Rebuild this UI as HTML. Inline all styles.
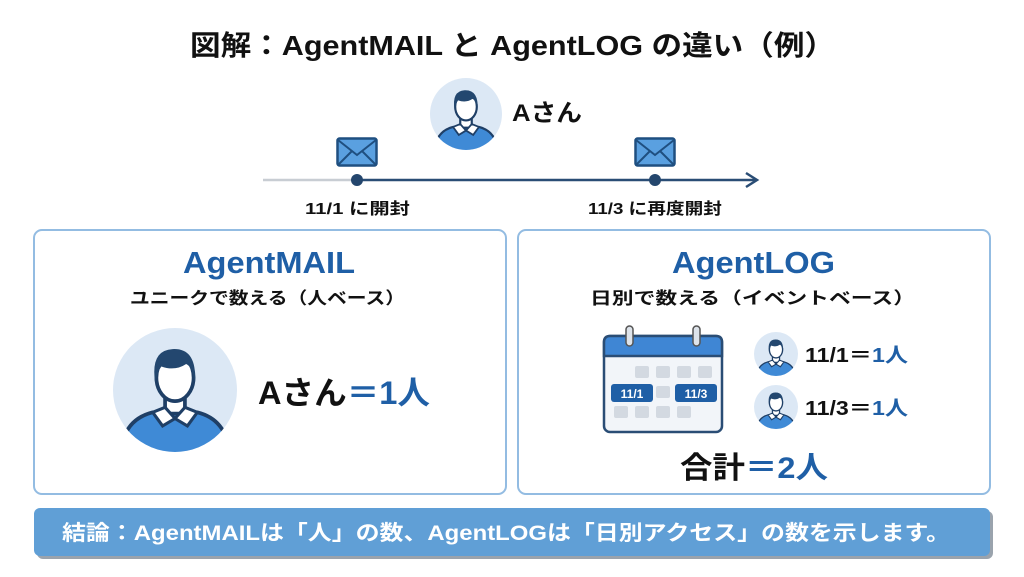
<!DOCTYPE html>
<html><head><meta charset="utf-8"><style>
body{margin:0;width:1024px;height:572px;overflow:hidden;background:#fff;}
text{font-family:"Liberation Sans","Noto Sans CJK JP",sans-serif;font-weight:bold;}
</style></head><body>
<svg width="1024" height="572" viewBox="0 0 1024 572" xmlns="http://www.w3.org/2000/svg">
<defs>
<clipPath id="cc"><circle cx="0" cy="0" r="50"/></clipPath>
<symbol id="p" viewBox="-50 -50 100 100">
<circle cx="0" cy="0" r="50" fill="#dce8f5"/>
<g clip-path="url(#cc)">
<path d="M-44 52 Q-42 24 -18 18 L18 18 Q42 24 44 52 Z" fill="#3f8ad6" stroke="#1f3f66" stroke-width="3"/>
<path d="M-8 6 L-8 19 L8 19 L8 6 Z" fill="#fff" stroke="#1f3f66" stroke-width="3"/>
<path d="M-18 18 L-8 14 L0 23 L-10 29 Z M18 18 L8 14 L0 23 L10 29 Z" fill="#fff" stroke="#1f3f66" stroke-width="2.5"/>
<ellipse cx="0" cy="-10" rx="15" ry="19" fill="#fff" stroke="#1f3f66" stroke-width="3"/>
<path d="M-16 -6 Q-20 -32 -2 -33 Q18 -34 16 -6 Q14 -19 9 -21 Q0 -15 -11 -19 Q-14 -15 -16 -6 Z" fill="#23476f"/>
</g>
</symbol>
<symbol id="env" viewBox="0 0 42 30">
<rect x="1.5" y="1.5" width="39" height="27" rx="2" fill="#5aa0e0" stroke="#1f4f80" stroke-width="2.5"/>
<path d="M2 3 L21 18 L40 3 M2 28 L16 14 M40 28 L26 14" fill="none" stroke="#1f4f80" stroke-width="2"/>
</symbol>
</defs>

<text x="190" y="55" font-size="28" textLength="645" lengthAdjust="spacingAndGlyphs" fill="#111">図解：AgentMAIL と AgentLOG の違い（例）</text>

<use href="#p" x="430" y="78" width="72" height="72"/>
<text x="512" y="121" font-size="24" textLength="70" lengthAdjust="spacingAndGlyphs" fill="#111">Aさん</text>

<line x1="263" y1="180" x2="357" y2="180" stroke="#c8cdd3" stroke-width="2.5"/>
<line x1="357" y1="180" x2="755" y2="180" stroke="#2a4d75" stroke-width="2.5"/>
<path d="M746 173 L757 180 L746 187" fill="none" stroke="#2a4d75" stroke-width="2.5"/>
<circle cx="357" cy="180" r="6" fill="#24466d"/>
<circle cx="655" cy="180" r="6" fill="#24466d"/>
<use href="#env" x="336" y="137" width="42" height="30"/>
<use href="#env" x="634" y="137" width="42" height="30"/>
<text x="305" y="214" font-size="16" textLength="105" lengthAdjust="spacingAndGlyphs" fill="#111">11/1 に開封</text>
<text x="588" y="214" font-size="16" textLength="134" lengthAdjust="spacingAndGlyphs" fill="#111">11/3 に再度開封</text>

<rect x="34" y="230" width="472" height="264" rx="8" fill="#fff" stroke="#93bce2" stroke-width="2"/>
<rect x="518" y="230" width="472" height="264" rx="8" fill="#fff" stroke="#93bce2" stroke-width="2"/>

<text x="183" y="273" font-size="31" textLength="172" lengthAdjust="spacingAndGlyphs" fill="#1f5fa6">AgentMAIL</text>
<text x="130" y="304" font-size="17" textLength="275" lengthAdjust="spacingAndGlyphs" fill="#111">ユニークで数える（人ベース）</text>
<use href="#p" x="113" y="328" width="124" height="124"/>
<text x="258" y="404" font-size="32" textLength="172" lengthAdjust="spacingAndGlyphs" fill="#111">Aさん<tspan fill="#1f5fa6">＝1人</tspan></text>

<text x="672" y="273" font-size="31" textLength="163" lengthAdjust="spacingAndGlyphs" fill="#1f5fa6">AgentLOG</text>
<text x="590" y="304" font-size="17" textLength="325" lengthAdjust="spacingAndGlyphs" fill="#111">日別で数える（イベントベース）</text>

<g>
<rect x="604" y="336" width="118" height="96" rx="6" fill="#f2f5f9" stroke="#2a4d75" stroke-width="2.5"/>
<path d="M604 356 L604 342 Q604 336 610 336 L716 336 Q722 336 722 342 L722 356 Z" fill="#3f86d4" stroke="#2a4d75" stroke-width="2.5"/>
<rect x="626" y="326" width="7" height="20" rx="3.5" fill="#dde3ea" stroke="#555" stroke-width="1.5"/>
<rect x="693" y="326" width="7" height="20" rx="3.5" fill="#dde3ea" stroke="#555" stroke-width="1.5"/>
<g fill="#d3d9e1">
<rect x="635" y="366" width="14" height="12" rx="2"/><rect x="656" y="366" width="14" height="12" rx="2"/><rect x="677" y="366" width="14" height="12" rx="2"/><rect x="698" y="366" width="14" height="12" rx="2"/>
<rect x="656" y="386" width="14" height="12" rx="2"/>
<rect x="614" y="406" width="14" height="12" rx="2"/><rect x="635" y="406" width="14" height="12" rx="2"/><rect x="656" y="406" width="14" height="12" rx="2"/><rect x="677" y="406" width="14" height="12" rx="2"/>
</g>
<rect x="611" y="384" width="42" height="18" rx="3" fill="#1f5fa6"/>
<rect x="675" y="384" width="42" height="18" rx="3" fill="#1f5fa6"/>
<text x="632" y="398" font-size="12" text-anchor="middle" fill="#fff">11/1</text>
<text x="696" y="398" font-size="12" text-anchor="middle" fill="#fff">11/3</text>
</g>

<use href="#p" x="754" y="332" width="44" height="44"/>
<use href="#p" x="754" y="385" width="44" height="44"/>
<text x="805" y="362" font-size="20" textLength="103" lengthAdjust="spacingAndGlyphs" fill="#111">11/1＝<tspan fill="#1f5fa6">1人</tspan></text>
<text x="805" y="415" font-size="20" textLength="103" lengthAdjust="spacingAndGlyphs" fill="#111">11/3＝<tspan fill="#1f5fa6">1人</tspan></text>
<text x="680" y="478" font-size="30" textLength="148" lengthAdjust="spacingAndGlyphs" fill="#111">合計<tspan fill="#1f5fa6">＝2人</tspan></text>

<rect x="37" y="511" width="956" height="48" rx="6" fill="#9aa3ad"/>
<rect x="34" y="508" width="956" height="48" rx="6" fill="#609fd6"/>
<text x="62" y="540" font-size="21" textLength="888" lengthAdjust="spacingAndGlyphs" fill="#fff">結論：AgentMAILは「人」の数、AgentLOGは「日別アクセス」の数を示します。</text>
</svg>
</body></html>
